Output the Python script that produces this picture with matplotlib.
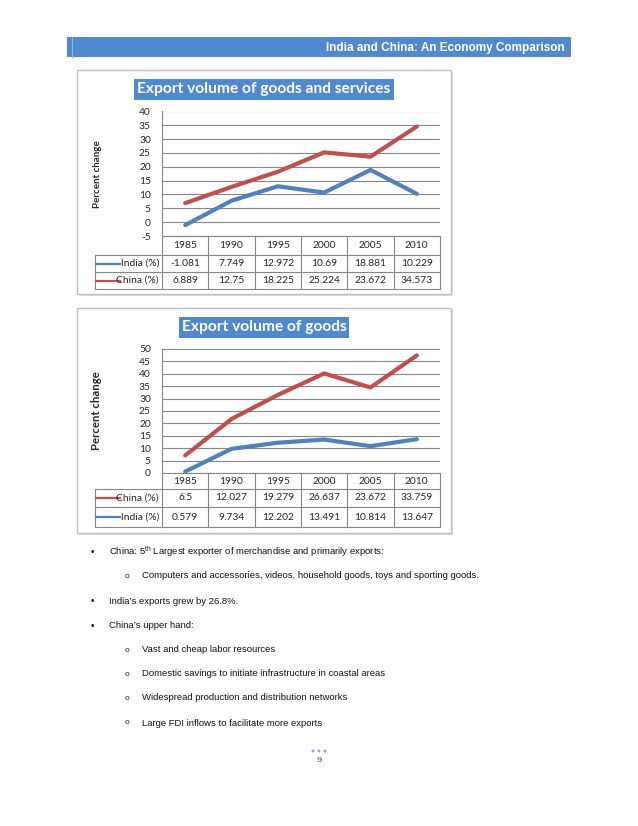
import matplotlib
matplotlib.use('Agg')
import matplotlib.pyplot as plt
from matplotlib.patches import Rectangle, Circle

W, H = 638, 826

# data
years = ['1985', '1990', '1995', '2000', '2005', '2010']
india_gs = [-1.081, 7.749, 12.972, 10.69, 18.881, 10.229]
china_gs = [6.889, 12.75, 18.225, 25.224, 23.672, 34.573]
china_g = [6.5, 12.027, 19.279, 26.637, 23.672, 33.759]
india_g = [0.579, 9.734, 12.202, 13.491, 10.814, 13.647]
# second chart is a stacked line chart (China drawn on top of India)
china_g_stacked = [c + i for c, i in zip(china_g, india_g)]

header = 'India and China: An Economy Comparison'
bullets = [
    (0, r'China: 5$^{\rm th}$ Largest exporter of merchandise and primarily exports:'),
    (1, 'Computers and accessories, videos, household goods, toys and sporting goods.'),
    (0, 'India\u2019s exports grew by 26.8%.'),
    (0, 'China\u2019s upper hand:'),
    (1, 'Vast and cheap labor resources'),
    (1, 'Domestic savings to initiate infrastructure in coastal areas'),
    (1, 'Widespread production and distribution networks'),
    (1, 'Large FDI inflows to facilitate more exports'),
]
bullet_y = [552, 576, 601, 626, 650, 674, 698, 723]

BLUE = '#4F81BD'
RED = '#C0504D'
GRID = '#868686'
TXT = '#262626'
BAR = '#5189CE'

plt.rcParams['font.family'] = ['Lato', 'DejaVu Sans']
plt.rcParams['mathtext.fontset'] = 'custom'
plt.rcParams['mathtext.rm'] = 'Liberation Sans'
plt.rcParams['axes.unicode_minus'] = False

fig = plt.figure(figsize=(W / 100, H / 100), dpi=100)
bg = fig.add_axes([0, 0, 1, 1])
bg.set_xlim(0, W)
bg.set_ylim(H, 0)
bg.axis('off')


def px_axes(x0, y0, x1, y1):
    return fig.add_axes([x0 / W, 1 - y1 / H, (x1 - x0) / W, (y1 - y0) / H])


# page header bar
bg.add_patch(Rectangle((67, 37), 504, 20, facecolor=BAR, edgecolor='none'))
bg.plot([72, 72], [37, 57], color='#8FB3E0', lw=0.8)
bg.text(565, 47.5, header, ha='right', va='center', color='white',
        fontsize=8.5, fontweight='bold', family='Liberation Sans')


def chart(box, title, title_y, plot_y, ylim, yticks, rows, row_edges, ylab_size):
    x0, y0, x1, y1 = box
    # frame with soft shadow
    bg.add_patch(Rectangle((x0 + 2, y0 + 2), x1 - x0, y1 - y0, facecolor='#DDDDDD', edgecolor='none'))
    bg.add_patch(Rectangle((x0, y0), x1 - x0, y1 - y0, facecolor='white', edgecolor='#BFBFBF', lw=1))

    bg.text(264, title_y, title, ha='center', va='center', color='white',
            fontsize=11.2, fontweight='bold',
            bbox=dict(boxstyle='square,pad=0.2', facecolor=BAR, edgecolor='none'))

    bg.text(97, (plot_y[0] + plot_y[1]) / 2, 'Percent change', rotation=90,
            ha='center', va='center', fontsize=ylab_size, fontweight='bold', color=TXT)

    ax = px_axes(162, plot_y[0], 440, plot_y[1])
    ax.set_facecolor('none')
    ax.set_xlim(-0.5, 5.5)
    ax.set_ylim(*ylim)
    ax.set_yticks(yticks)
    ax.set_xticks([])
    ax.grid(axis='y', color=GRID, lw=0.8)
    ax.set_axisbelow(True)
    for s in ['top', 'right', 'bottom']:
        ax.spines[s].set_visible(False)
    ax.spines['left'].set_color(GRID)
    ax.spines['left'].set_linewidth(0.8)
    ax.tick_params(axis='y', length=0, pad=8, labelsize=7.4, labelcolor=TXT)
    for lab, vals, plotted, col in rows:
        ax.plot(range(len(years)), plotted, color=col, lw=3, solid_capstyle='round')

    # data table under the plot
    cw = (440 - 162) / len(years)
    edges_x = [162 + k * cw for k in range(len(years) + 1)]
    top = row_edges[0]
    bottom = row_edges[-1]
    bg.plot([162, 440], [top, top], color=GRID, lw=0.8)
    for ry in row_edges[1:]:
        bg.plot([95, 440], [ry, ry], color=GRID, lw=0.8)
    for ex in edges_x:
        bg.plot([ex, ex], [top, bottom], color=GRID, lw=0.8)
    bg.plot([95, 95], [row_edges[1], bottom], color=GRID, lw=0.8)
    hy = (row_edges[0] + row_edges[1]) / 2
    for k, yr in enumerate(years):
        bg.text(edges_x[k] + cw / 2, hy, yr, ha='center', va='center', fontsize=7.4, color=TXT)
    for r, (lab, vals, plotted, col) in enumerate(rows):
        cy = (row_edges[r + 1] + row_edges[r + 2]) / 2
        bg.plot([96, 120], [cy, cy], color=col, lw=1.6)
        bg.text(159, cy, lab, ha='right', va='center', fontsize=7.4, color=TXT)
        for k, v in enumerate(vals):
            bg.text(edges_x[k] + cw / 2, cy, f'{v:g}', ha='center', va='center', fontsize=7.4, color=TXT)


chart((77, 70, 451, 294), 'Export volume of goods and services', 89.5, (111.5, 236),
      (-5, 40), range(-5, 41, 5),
      [('India (%)', india_gs, india_gs, BLUE), ('China (%)', china_gs, china_gs, RED)],
      [236, 255, 272, 289], 7)

chart((77, 308, 451, 533), 'Export volume of goods', 327.5, (349, 473),
      (0, 50), range(0, 51, 5),
      [('China (%)', china_g, china_g_stacked, RED), ('India (%)', india_g, india_g, BLUE)],
      [473, 489, 507, 527], 8.2)

# bullet list
for (lvl, txt), y in zip(bullets, bullet_y):
    if lvl == 0:
        bg.text(92, y, '\u2022', ha='center', va='center', fontsize=7, family='Liberation Sans', color='black')
        bg.text(109, y, txt, ha='left', va='center', fontsize=6.8, family='Liberation Sans', color='#111111')
    else:
        bg.text(127, y, 'o', ha='center', va='center', fontsize=6, family='Liberation Sans', color='#222222')
        bg.text(142, y, txt, ha='left', va='center', fontsize=6.8, family='Liberation Sans', color='#111111')

# page footer
for dx in (-6, 0, 6):
    bg.add_patch(Circle((319 + dx, 751), 1.5, facecolor='#8EAADB', edgecolor='none'))
bg.text(319, 760, '9', ha='center', va='center', fontsize=6, family='DejaVu Serif', color='#333333')

fig.savefig('out.png', dpi=100)
